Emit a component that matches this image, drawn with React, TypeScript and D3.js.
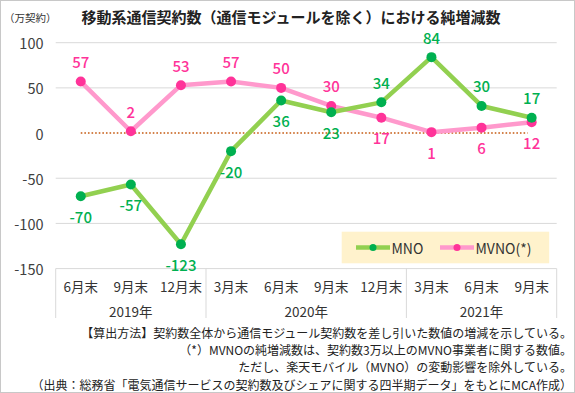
import React, { useRef, useEffect } from "react";
import * as d3 from "d3";

// Quarter-end labels and year groups
const quarters = ["6月末", "9月末", "12月末", "3月末", "6月末", "9月末", "12月末", "3月末", "6月末", "9月末"];
const years = ["2019年", "2020年", "2021年"];
const yearSpans = [3, 4, 3];

// net additions (10k contracts)
const mnoValues = [-70, -57, -123, -20, 36, 23, 34, 84, 30, 17];
const mvnoValues = [57, 2, 53, 57, 50, 30, 17, 1, 6, 12];
const mnoLabelSide = ["below", "below", "below", "below", "below", "below", "above", "above", "above", "above"];
const mvnoLabelSide = ["above", "above", "above", "above", "above", "above", "below", "below", "below", "below"];

const yTicks = [100, 50, 0, -50, -100, -150];

const notes = [
  "【算出方法】契約数全体から通信モジュール契約数を差し引いた数値の増減を示している。",
  "（*）MVNOの純増減数は、契約数3万以上のMVNO事業者に関する数値。",
  "ただし、楽天モバイル（MVNO）の変動影響を除外している。",
  "（出典：総務省「電気通信サービスの契約数及びシェアに関する四半期データ」をもとにMCA作成）",
];

const FONT = "'Noto Sans CJK JP', 'Noto Sans', sans-serif";

const App = () => {
  const svgRef = useRef<SVGSVGElement>(null);

  useEffect(() => {
    const width = 575;
    const height = 393;
    const svg = d3.select(svgRef.current).attr("width", width).attr("height", height);
    svg.selectAll("*").remove();

    const left = 55.7;
    const right = 556.7;
    const x = d3
      .scaleBand<number>()
      .domain(d3.range(quarters.length))
      .range([left, right]);
    const y = d3.scaleLinear().domain([-150, 100]).range([268.6, 42.7]);
    const cx = (i: number) => (x(i) as number) + x.bandwidth() / 2;

    // outer frame
    svg
      .append("rect")
      .attr("x", 0.5)
      .attr("y", 0.5)
      .attr("width", width - 1)
      .attr("height", height - 1)
      .attr("fill", "#fff")
      .attr("stroke", "#c8c8c8");

    // title + unit
    svg
      .append("text")
      .attr("x", 4)
      .attr("y", 17)
      .attr("dominant-baseline", "central")
      .attr("font-family", FONT)
      .attr("font-size", 10.5)
      .attr("fill", "#333")
      .text("（万契約）");
    svg
      .append("text")
      .attr("x", 291)
      .attr("y", 16)
      .attr("text-anchor", "middle")
      .attr("dominant-baseline", "central")
      .attr("font-family", FONT)
      .attr("font-size", 15)
      .attr("font-weight", "bold")
      .attr("fill", "#222")
      .text("移動系通信契約数（通信モジュールを除く）における純増減数");

    // gridlines + y labels
    svg
      .append("g")
      .selectAll("line")
      .data(yTicks.filter((t) => t !== 0))
      .join("line")
      .attr("x1", left)
      .attr("x2", right)
      .attr("y1", (d) => y(d))
      .attr("y2", (d) => y(d))
      .attr("stroke", "#d9d9d9")
      .attr("stroke-width", 1);
    svg
      .append("g")
      .selectAll("text")
      .data(yTicks)
      .join("text")
      .attr("x", 43.5)
      .attr("y", (d) => y(d))
      .attr("text-anchor", "end")
      .attr("dominant-baseline", "central")
      .attr("font-family", FONT)
      .attr("font-size", 14.5)
      .attr("fill", "#404040")
      .text((d) => d);

    // zero line (dotted)
    svg
      .append("line")
      .attr("x1", cx(0))
      .attr("x2", cx(quarters.length - 1) - 4)
      .attr("y1", y(0))
      .attr("y2", y(0))
      .attr("stroke", "#c55a11")
      .attr("stroke-width", 1.6)
      .attr("stroke-dasharray", "1.6 2");

    // category axis box
    const axis = svg.append("g").attr("stroke", "#d9d9d9").attr("stroke-width", 1);
    const bounds = [0, ...d3.cumsum(yearSpans)];
    axis
      .selectAll("line.sep")
      .data(bounds)
      .join("line")
      .attr("x1", (d) => (d < quarters.length ? (x(d) as number) : right))
      .attr("x2", (d) => (d < quarters.length ? (x(d) as number) : right))
      .attr("y1", y(-150))
      .attr("y2", 318);

    svg
      .append("g")
      .selectAll("text")
      .data(quarters)
      .join("text")
      .attr("x", (d, i) => cx(i))
      .attr("y", 286)
      .attr("text-anchor", "middle")
      .attr("dominant-baseline", "central")
      .attr("font-family", FONT)
      .attr("font-size", 13.5)
      .attr("fill", "#333")
      .text((d) => d);

    svg
      .append("g")
      .selectAll("text")
      .data(years)
      .join("text")
      .attr("x", (d, i) => {
        const a = x(bounds[i]) as number;
        const b = bounds[i + 1] < quarters.length ? (x(bounds[i + 1]) as number) : right;
        return (a + b) / 2;
      })
      .attr("y", 310.5)
      .attr("text-anchor", "middle")
      .attr("dominant-baseline", "central")
      .attr("font-family", FONT)
      .attr("font-size", 13.5)
      .attr("fill", "#333")
      .text((d) => d);

    // series
    const line = d3
      .line<number>()
      .x((d, i) => cx(i))
      .y((d) => y(d));

    const series = [
      { values: mvnoValues, sides: mvnoLabelSide, line: "#ff99cc", dot: "#ff3399" },
      { values: mnoValues, sides: mnoLabelSide, line: "#92d050", dot: "#00b050" },
    ];

    series.forEach((s) => {
      const g = svg.append("g");
      g.append("path")
        .attr("d", line(s.values))
        .attr("fill", "none")
        .attr("stroke", s.line)
        .attr("stroke-width", 4.5)
        .attr("stroke-linejoin", "round");
      g.selectAll("circle")
        .data(s.values)
        .join("circle")
        .attr("cx", (d, i) => cx(i))
        .attr("cy", (d) => y(d))
        .attr("r", 5)
        .attr("fill", s.dot);
      g.selectAll("text")
        .data(s.values)
        .join("text")
        .attr("x", (d, i) => cx(i))
        .attr("y", (d, i) => y(d) + (s.sides[i] === "above" ? -20 : 20))
        .attr("text-anchor", "middle")
        .attr("dominant-baseline", "central")
        .attr("font-family", FONT)
        .attr("font-size", 15)
        .attr("font-weight", 500)
        .attr("fill", s.dot)
        .text((d) => d);
    });

    // legend
    const legend = svg.append("g");
    legend
      .append("rect")
      .attr("x", 341.7)
      .attr("y", 231.7)
      .attr("width", 207.5)
      .attr("height", 31.6)
      .attr("fill", "#fff2cc");
    const items = [
      { name: "MNO", line: "#92d050", dot: "#00b050", x0: 356 },
      { name: "MVNO(*)", line: "#ff99cc", dot: "#ff3399", x0: 440 },
    ];
    const ly = 247.5;
    items.forEach((it) => {
      legend
        .append("line")
        .attr("x1", it.x0)
        .attr("x2", it.x0 + 34)
        .attr("y1", ly)
        .attr("y2", ly)
        .attr("stroke", it.line)
        .attr("stroke-width", 4.5);
      legend
        .append("circle")
        .attr("cx", it.x0 + 17)
        .attr("cy", ly)
        .attr("r", 3.5)
        .attr("fill", it.dot);
      legend
        .append("text")
        .attr("x", it.x0 + 35.5)
        .attr("y", ly)
        .attr("dominant-baseline", "central")
        .attr("font-family", FONT)
        .attr("font-size", 14)
        .attr("fill", "#333")
        .text(it.name);
    });

    // footnotes
    svg
      .append("g")
      .selectAll("text")
      .data(notes)
      .join("text")
      .attr("x", 572)
      .attr("y", (d, i) => 332 + i * 17.4)
      .attr("text-anchor", "end")
      .attr("dominant-baseline", "central")
      .attr("font-family", FONT)
      .attr("font-size", 12)
      .attr("fill", "#222")
      .text((d) => d);
  }, []);

  return (
    <div style={{ position: "absolute", left: 0, top: 0 }}>
      <svg ref={svgRef} style={{ display: "block" }}></svg>
    </div>
  );
};

export default App;
